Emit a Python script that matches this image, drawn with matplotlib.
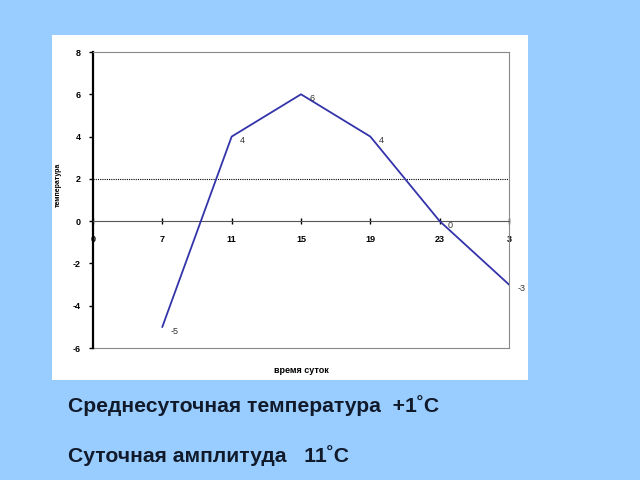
import matplotlib
matplotlib.use('Agg')
import matplotlib.pyplot as plt
from matplotlib.patches import Rectangle

plt.rcParams['font.family'] = ['Liberation Sans', 'DejaVu Sans']

# Data
hours = ['0', '7', '11', '15', '19', '23', '3']
temps = [None, -5, 4, 6, 4, 0, -3]
meanTemp = 2
yTicks = [-6, -4, -2, 0, 2, 4, 6, 8]

fig = plt.figure(figsize=(6.4, 4.8), dpi=100)
fig.patch.set_facecolor('#99ccff')

# white panel behind the chart
fig.patches.append(Rectangle((52 / 640, 100 / 480), 476 / 640, 345 / 480,
                             transform=fig.transFigure, facecolor='white',
                             edgecolor='none', zorder=-1))

ax = fig.add_axes([93 / 640, 132 / 480, 416 / 640, 296 / 480])
ax.set_zorder(2)
ax.set_facecolor('white')
# x axis runs through zero (set before tick styling, it resets the ticks)
ax.spines['bottom'].set_position(('data', 0))

xs = [i for i, t in enumerate(temps) if t is not None]
ys = [t for t in temps if t is not None]
ax.plot(xs, ys, color='#3333aa', linewidth=1.3, zorder=3)

for x, y in zip(xs, ys):
    ax.annotate(str(y), (x, y), xytext=(6, -3), textcoords='offset points',
                fontsize=6.5, color='#333333', va='center', ha='left',
                annotation_clip=False)

ax.axhline(meanTemp, color='black', linestyle=(0, (1, 1)), linewidth=0.8)

ax.set_xlim(0, len(hours) - 1)
ax.set_ylim(-6, 8)
ax.set_xticks(range(len(hours)))
ax.set_xticklabels(hours, fontsize=6.5, fontweight='bold')
ax.set_yticks(yTicks)
ax.set_yticklabels([str(v) for v in yTicks], fontsize=6.5, fontweight='bold')

ax.spines['left'].set_linewidth(1.6)
ax.spines['left'].set_color('black')
for s in ['top', 'right']:
    ax.spines[s].set_color('#888888')
    ax.spines[s].set_linewidth(0.8)
ax.spines['bottom'].set_color('#555555')
ax.spines['bottom'].set_linewidth(0.8)
ax.plot([0, 1], [0, 0], transform=ax.transAxes, color='#888888', linewidth=0.8,
        clip_on=False)

ax.tick_params(axis='x', direction='inout', length=4, width=1, pad=8)
ax.tick_params(axis='y', direction='out', length=3, width=1, pad=6)

ax.set_xlabel('время суток', fontsize=6.5, fontweight='bold', labelpad=0)
ax.xaxis.set_label_coords(0.5, -0.06)
ax.set_ylabel('температура', fontsize=5, fontweight='bold')
ax.yaxis.set_label_coords(-0.075, 0.55)

fig.text(68 / 640, 1 - 406 / 480, 'Среднесуточная температура  +1˚С',
         fontsize=15.2, fontweight='bold', color='#111a2a', va='center')
fig.text(68 / 640, 1 - 456 / 480, 'Суточная амплитуда   11˚С',
         fontsize=15.2, fontweight='bold', color='#111a2a', va='center')

fig.savefig('out.png', dpi=100, facecolor=fig.get_facecolor())
